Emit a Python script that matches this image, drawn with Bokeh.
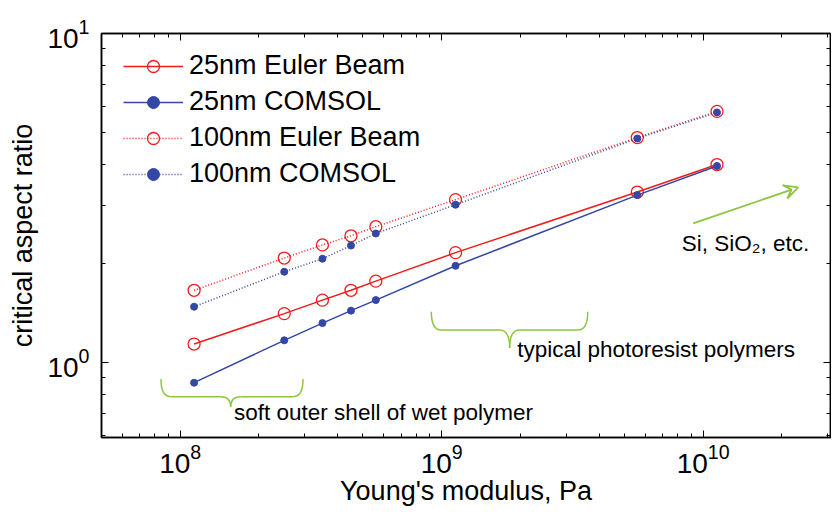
from bokeh.plotting import figure
from bokeh.models import (LogAxis, Legend, LegendItem, CustomJSTickFormatter,
                          Range1d, Arrow, VeeHead, FixedTicker, LogTickFormatter)
from bokeh.embed import file_html
from bokeh.resources import INLINE
from bokeh.core.properties import value

# ---- data ----
modulus = [1.13e8, 2.5e8, 3.5e8, 4.5e8, 5.6e8, 1.13e9, 5.6e9, 1.13e10]
euler_25 = [1.14, 1.41, 1.55, 1.66, 1.77, 2.16, 3.30, 4.00]
comsol_25 = [0.87, 1.17, 1.32, 1.44, 1.55, 1.97, 3.23, 3.96]
euler_100 = [1.66, 2.08, 2.28, 2.43, 2.59, 3.13, 4.83, 5.80]
comsol_100 = [1.48, 1.89, 2.07, 2.27, 2.47, 3.02, 4.80, 5.76]
series_names = ["25nm Euler Beam", "25nm COMSOL", "100nm Euler Beam", "100nm COMSOL"]

x_major = [1e8, 1e9, 1e10]
x_minor = [6e7, 7e7, 8e7, 9e7, 2e8, 3e8, 4e8, 5e8, 6e8, 7e8, 8e8, 9e8,
           2e9, 3e9, 4e9, 5e9, 6e9, 7e9, 8e9, 9e9, 2e10, 3e10]
y_major = [1, 10]
y_minor = [0.6, 0.7, 0.8, 0.9, 2, 3, 4, 5, 6, 7, 8, 9]

# annotation anchors (data coordinates)
soft_brace = dict(xl=8.44e7, xt=1.56e8, xr=2.95e8, ytop=0.892, yline=0.789, ytip=0.735)
resist_brace = dict(xl=9.13e8, xt=1.82e9, xr=3.62e9, ytop=1.428, yline=1.257, ytip=1.108)
arrow_start = (9.16e9, 2.65)
arrow_end = (2.31e10, 3.41)

FONT = "Liberation Sans"
RED = "#f01c1c"
BLUE = "#3446a6"
GREEN = "#8cc63f"

p = figure(width=831, height=508, x_axis_type="log", y_axis_type="log",
           x_range=Range1d(5.0e7, 3.07e10), y_range=Range1d(0.593, 10),
           output_backend="svg", toolbar_location=None,
           min_border_left=101, min_border_right=1, min_border_top=33, min_border_bottom=71)
p.background_fill_color = "white"
p.border_fill_color = "white"
p.grid.visible = False
p.outline_line_color = "black"
p.outline_line_width = 1.5

p.xaxis[0].ticker = FixedTicker(ticks=x_major, minor_ticks=x_minor)
p.yaxis[0].ticker = FixedTicker(ticks=y_major, minor_ticks=y_minor)
p.xaxis[0].formatter = LogTickFormatter()
p.yaxis[0].formatter = LogTickFormatter()

for ax in [p.xaxis[0], p.yaxis[0]]:
    ax.major_tick_in = 7
    ax.major_tick_out = 0
    ax.minor_tick_in = 4
    ax.minor_tick_out = 0
    ax.axis_line_width = 1.5
    ax.major_label_text_font = FONT
    ax.major_label_text_font_size = "28px"
    ax.major_label_text_color = "black"
    ax.axis_label_text_font = FONT
    ax.axis_label_text_font_style = "normal"
    ax.axis_label_text_font_size = "27px"
    ax.axis_label_text_color = "black"

p.xaxis.axis_label = "Young's modulus, Pa"
p.yaxis.axis_label = "critical aspect ratio"
p.xaxis.major_label_standoff = 6
p.yaxis.major_label_standoff = 12
p.xaxis.axis_label_standoff = 0
p.yaxis.axis_label_standoff = 6

blank = CustomJSTickFormatter(code="return ''")
top_ax = LogAxis(formatter=blank, ticker=FixedTicker(ticks=x_major, minor_ticks=x_minor))
right_ax = LogAxis(formatter=blank, ticker=FixedTicker(ticks=y_major, minor_ticks=y_minor))
for ax, loc in [(top_ax, "above"), (right_ax, "right")]:
    ax.major_tick_in = 7
    ax.major_tick_out = 0
    ax.minor_tick_in = 4
    ax.minor_tick_out = 0
    ax.axis_line_width = 1.5
    ax.major_label_standoff = 0
    ax.major_label_text_font_size = "1px"
    p.add_layout(ax, loc)

# ---- series ----
r1l = p.line(modulus, euler_25, line_color=RED, line_width=1.5)
r1m = p.scatter(modulus, euler_25, marker="circle", size=12, fill_color=None,
                line_color=RED, line_width=1.3)
r2l = p.line(modulus, comsol_25, line_color=BLUE, line_width=1.5)
r2m = p.scatter(modulus, comsol_25, marker="circle", size=7, fill_color=BLUE,
                line_color=BLUE)
r3l = p.line(modulus, euler_100, line_color=RED, line_width=1.5, line_dash="1 2")
r3m = p.scatter(modulus, euler_100, marker="circle", size=12, fill_color=None,
                line_color=RED, line_width=1.3)
r4l = p.line(modulus, comsol_100, line_color=BLUE, line_width=1.5, line_dash="1 2")
r4m = p.scatter(modulus, comsol_100, marker="circle", size=7, fill_color=BLUE,
                line_color=BLUE)

legend = Legend(items=[
    LegendItem(label=series_names[0], renderers=[r1l, r1m]),
    LegendItem(label=series_names[1], renderers=[r2l, r2m]),
    LegendItem(label=series_names[2], renderers=[r3l, r3m]),
    LegendItem(label=series_names[3], renderers=[r4l, r4m]),
], location=(22, 248))
legend.border_line_color = None
legend.background_fill_alpha = 0
legend.padding = 0
legend.margin = 0
legend.spacing = 5
legend.glyph_width = 60
legend.glyph_height = 30
legend.label_height = 30
legend.label_standoff = 6
legend.label_text_font = FONT
legend.label_text_font_size = "27px"
legend.label_text_color = "black"
p.add_layout(legend, "center")

# ---- braces ----
def brace(b):
    k = 1.09
    xl, xt, xr = b["xl"], b["xt"], b["xr"]
    yt, yl, yp = b["ytop"], b["yline"], b["ytip"]
    p.quadratic(x0=[xl, xt / k, xt * k, xr], y0=[yt, yl, yl, yt],
                x1=[xl * k, xt, xt, xr / k], y1=[yl, yp, yp, yl],
                cx=[xl, xt, xt, xr], cy=[yl, yl, yl, yl],
                line_color=GREEN, line_width=1.5)
    p.segment(x0=[xl * k, xt * k], y0=[yl, yl], x1=[xt / k, xr / k], y1=[yl, yl],
              line_color=GREEN, line_width=1.5)

brace(soft_brace)
brace(resist_brace)

p.add_layout(Arrow(end=VeeHead(size=14, line_color=GREEN, line_width=1.8, fill_color=None),
                   x_start=arrow_start[0], y_start=arrow_start[1],
                   x_end=arrow_end[0], y_end=arrow_end[1],
                   line_color=GREEN, line_width=1.8))

p.text(x=[soft_brace["xt"] * 1.03], y=[soft_brace["ytip"] * 0.96],
       text=["soft outer shell of wet polymer"], text_font=value(FONT),
       text_font_size="22.5px", text_baseline="middle", text_align="left",
       text_color="black")
p.text(x=[resist_brace["xt"] * 1.07], y=[resist_brace["ytip"] * 0.99],
       text=["typical photoresist polymers"], text_font=value(FONT),
       text_font_size="22.5px", text_baseline="middle", text_align="left",
       text_color="black")
p.text(x=[8.28e9], y=[2.31],
       text=["Si, SiO\u2082, etc."], text_font=value(FONT),
       text_font_size="22.5px", text_baseline="middle", text_align="left",
       text_color="black")

open("out.html", "w").write(file_html(p, INLINE))
